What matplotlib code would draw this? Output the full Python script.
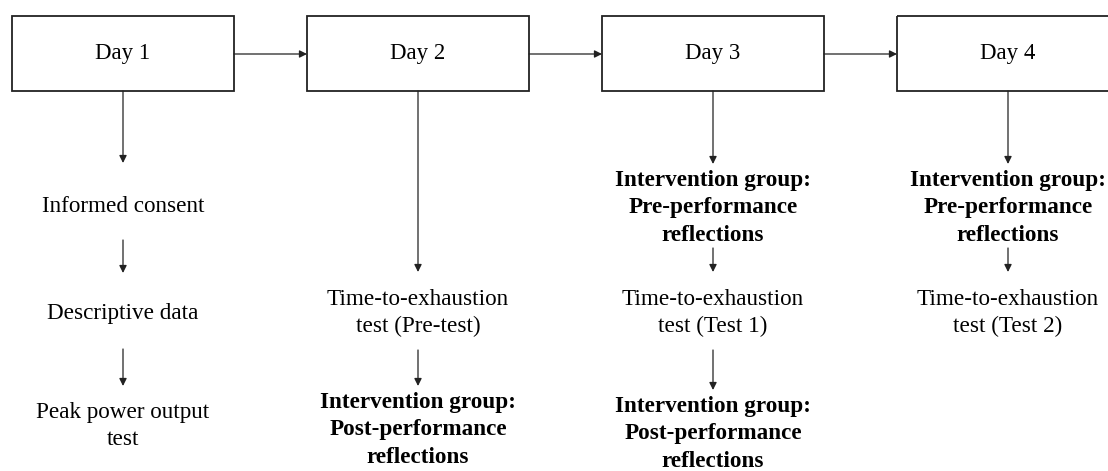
import matplotlib.pyplot as plt
from matplotlib.patches import Rectangle

# labels
days = ['Day 1', 'Day 2', 'Day 3', 'Day 4']
day1_steps = ['Informed consent', 'Descriptive data', 'Peak power output\ntest']
day2_steps = ['Time-to-exhaustion\ntest (Pre-test)', 'Intervention group:\nPost-performance\nreflections']
day3_steps = ['Intervention group:\nPre-performance\nreflections', 'Time-to-exhaustion\ntest (Test 1)',
              'Intervention group:\nPost-performance\nreflections']
day4_steps = ['Intervention group:\nPre-performance\nreflections', 'Time-to-exhaustion\ntest (Test 2)']
day1_bold = [False, False, False]
day2_bold = [False, True]
day3_bold = [True, False, True]
day4_bold = [True, False]

# layout in pixel units (y grows downward)
W, H = 1108, 471
box_left = [12, 307, 602, 897]
box_w = 222
box_top, box_bot = 16, 91
col_x = [123, 418, 713, 1008]

# per column: (arrow start, arrow end, text center y) for each step
day1_layout = [(91, 163, 206), (240, 273, 314), (349, 386, 426)]
day2_layout = [(91, 272, 313), (350, 386, 430)]
day3_layout = [(91, 164, 208), (248, 272, 313), (350, 390, 434)]
day4_layout = [(91, 164, 208), (248, 272, 313)]

fig = plt.figure(figsize=(W / 100, H / 100), dpi=100)
ax = fig.add_axes([0, 0, 1, 1])
ax.set_xlim(0, W)
ax.set_ylim(H, 0)
ax.axis('off')

font = 'Liberation Serif'
edge = '#222222'

for i, label in enumerate(days):
    ax.add_patch(Rectangle((box_left[i], box_top), box_w, box_bot - box_top,
                           fill=False, edgecolor=edge, lw=1.3, clip_on=True))
    ax.text(box_left[i] + box_w / 2, (box_top + box_bot) / 2, label, ha='center', va='center',
            fontsize=16.5, family=font, color='black')
    if i < len(days) - 1:
        ax.annotate('', xy=(box_left[i + 1], 54), xytext=(box_left[i] + box_w, 54),
                    arrowprops=dict(arrowstyle='-|>', color=edge, lw=0.9, mutation_scale=11,
                                    shrinkA=0, shrinkB=0))

columns = [(day1_steps, day1_bold, day1_layout), (day2_steps, day2_bold, day2_layout),
           (day3_steps, day3_bold, day3_layout), (day4_steps, day4_bold, day4_layout)]

for cx, (steps, bolds, layout) in zip(col_x, columns):
    for text, bold, (y0, y1, ty) in zip(steps, bolds, layout):
        ax.annotate('', xy=(cx, y1), xytext=(cx, y0),
                    arrowprops=dict(arrowstyle='-|>', color=edge, lw=0.9, mutation_scale=11,
                                    shrinkA=0, shrinkB=0))
        ax.text(cx, ty, text, ha='center', va='center', fontsize=16.7,
                family=font, fontweight='bold' if bold else 'normal',
                color='black', linespacing=1.4)

fig.savefig('out.png', dpi=100, facecolor='white')
